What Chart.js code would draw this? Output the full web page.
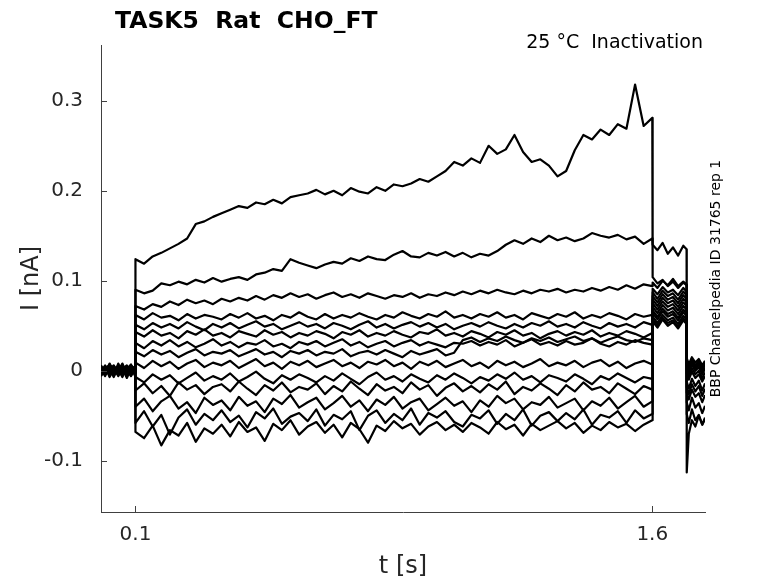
<!DOCTYPE html>
<html>
<head>
<meta charset="utf-8">
<script src="https://cdn.jsdelivr.net/npm/chart.js@4.4.0/dist/chart.umd.min.js"></script>
<style>
  html, body { margin: 0; padding: 0; background: #fff; }
  #wrap { width: 778px; height: 583px; }
</style>
</head>
<body>
<div id="wrap"><canvas id="traceChart" width="778" height="583"></canvas></div>
<script>
// time points [s]: holding, step 1, step 2, tail
var tBase  = [0, 0.012, 0.025, 0.037, 0.05, 0.062, 0.075, 0.087, 0.0995];
var tStep  = [0.100, 0.125, 0.150, 0.175, 0.200, 0.225, 0.250, 0.275, 0.300, 0.325,
              0.350, 0.375, 0.400, 0.425, 0.450, 0.475, 0.500, 0.525, 0.550, 0.575,
              0.600, 0.625, 0.650, 0.675, 0.700, 0.725, 0.750, 0.775, 0.800, 0.825,
              0.850, 0.875, 0.900, 0.925, 0.950, 0.975, 1.000, 1.025, 1.050, 1.075,
              1.100, 1.125, 1.150, 1.175, 1.200, 1.225, 1.250, 1.275, 1.300, 1.325,
              1.350, 1.375, 1.400, 1.425, 1.450, 1.475, 1.500, 1.525, 1.550, 1.575,
              1.600];
var tStep2 = [1.601, 1.615, 1.63, 1.645, 1.66, 1.675, 1.69, 1.6995];
var tTail  = [1.7, 1.706, 1.715, 1.725, 1.735, 1.745, 1.753];
var t = tBase.concat(tStep, tStep2, tTail);

// tick labels
var xTicks = [0.1, 1.6];
var yTicks = [-0.1, 0, 0.1, 0.2, 0.3];

// currents [nA], one array per sweep
var i01 = [0.002, -0.004, 0.006, -0.001, 0.003, -0.006, 0.004, 0.000, -0.002,
  0.124, 0.119, 0.127, 0.131, 0.136, 0.141, 0.147, 0.163, 0.166, 0.171,
  0.175, 0.179, 0.183, 0.181, 0.187, 0.185, 0.190, 0.186, 0.193, 0.195,
  0.197, 0.201, 0.196, 0.200, 0.195, 0.203, 0.199, 0.197, 0.204, 0.200,
  0.207, 0.205, 0.208, 0.213, 0.210, 0.216, 0.222, 0.232, 0.228, 0.236,
  0.231, 0.250, 0.241, 0.246, 0.262, 0.243, 0.232, 0.235, 0.228, 0.216,
  0.222, 0.245, 0.262, 0.257, 0.268, 0.262, 0.274, 0.269, 0.318, 0.272,
  0.281,
  0.104, 0.097, 0.101, 0.094, 0.099, 0.092, 0.098, 0.095,
  0.010, 0.004, 0.012, 0.006, 0.011, 0.003, 0.008];
var i02 = [-0.003, 0.005, 0.001, -0.006, 0.008, -0.002, 0.003, -0.005, 0.002,
  0.090, 0.086, 0.089, 0.097, 0.095, 0.099, 0.096, 0.101, 0.098, 0.103,
  0.099, 0.102, 0.104, 0.101, 0.107, 0.109, 0.113, 0.111, 0.124, 0.120,
  0.117, 0.114, 0.118, 0.121, 0.119, 0.125, 0.122, 0.127, 0.124, 0.123,
  0.129, 0.133, 0.127, 0.126, 0.131, 0.128, 0.132, 0.127, 0.131, 0.126,
  0.130, 0.128, 0.133, 0.140, 0.145, 0.141, 0.147, 0.143, 0.150, 0.145,
  0.148, 0.144, 0.147, 0.153, 0.150, 0.148, 0.151, 0.146, 0.149, 0.141,
  0.147,
  0.140, 0.134, 0.142, 0.130, 0.137, 0.128, 0.139, 0.135,
  0.012, 0.005, 0.013, 0.002, 0.009, 0.004, 0.010];
var i03 = [0.004, -0.002, 0.007, 0.001, -0.005, 0.003, -0.001, 0.006, 0.000,
  0.072, 0.068, 0.074, 0.071, 0.077, 0.073, 0.079, 0.075, 0.078, 0.074,
  0.080, 0.077, 0.081, 0.078, 0.083, 0.079, 0.084, 0.081, 0.086, 0.082,
  0.085, 0.080, 0.084, 0.087, 0.082, 0.085, 0.081, 0.086, 0.083, 0.080,
  0.084, 0.082, 0.086, 0.081, 0.085, 0.083, 0.087, 0.084, 0.088, 0.085,
  0.089, 0.086, 0.090, 0.087, 0.085, 0.089, 0.086, 0.090, 0.088, 0.091,
  0.087, 0.090, 0.088, 0.092, 0.089, 0.093, 0.090, 0.095, 0.091, 0.096,
  0.094,
  0.098, 0.092, 0.100, 0.095, 0.102, 0.094, 0.099, 0.096,
  0.006, -0.001, 0.008, 0.002, 0.007, -0.002, 0.004];
var i04 = [-0.004, 0.003, -0.001, 0.005, -0.006, 0.002, 0.006, -0.003, 0.001,
  0.062, 0.057, 0.064, 0.059, 0.061, 0.056, 0.063, 0.058, 0.062, 0.060,
  0.057, 0.063, 0.059, 0.064, 0.058, 0.061, 0.056, 0.062, 0.059, 0.065,
  0.060, 0.057, 0.063, 0.058, 0.062, 0.059, 0.064, 0.060, 0.057, 0.062,
  0.059, 0.065, 0.061, 0.058, 0.063, 0.060, 0.066, 0.059, 0.062, 0.058,
  0.063, 0.060, 0.065, 0.059, 0.062, 0.057, 0.064, 0.061, 0.058, 0.063,
  0.060, 0.065, 0.058, 0.062, 0.059, 0.064, 0.061, 0.057, 0.063, 0.060,
  0.062,
  0.091, 0.085, 0.093, 0.087, 0.090, 0.084, 0.092, 0.088,
  0.014, 0.007, 0.015, 0.009, 0.013, 0.006, 0.011];
var i05 = [0.006, -0.002, 0.003, -0.005, 0.001, 0.007, -0.003, 0.004, -0.001,
  0.051, 0.046, 0.053, 0.048, 0.052, 0.047, 0.054, 0.049, 0.045, 0.052,
  0.048, 0.053, 0.047, 0.051, 0.055, 0.049, 0.052, 0.046, 0.050, 0.054,
  0.049, 0.052, 0.047, 0.053, 0.050, 0.046, 0.051, 0.055, 0.048, 0.052,
  0.047, 0.051, 0.054, 0.049, 0.053, 0.048, 0.052, 0.046, 0.050, 0.053,
  0.049, 0.054, 0.050, 0.047, 0.052, 0.048, 0.053, 0.050, 0.055, 0.049,
  0.052, 0.048, 0.054, 0.050, 0.047, 0.053, 0.049, 0.052, 0.048, 0.054,
  0.051,
  0.087, 0.080, 0.089, 0.083, 0.086, 0.079, 0.088, 0.084,
  0.010, 0.003, 0.012, 0.005, 0.009, 0.001, 0.007];
var i06 = [-0.002, 0.004, -0.006, 0.002, 0.005, -0.003, 0.001, -0.005, 0.003,
  0.043, 0.038, 0.045, 0.039, 0.042, 0.036, 0.044, 0.040, 0.046, 0.039,
  0.042, 0.037, 0.044, 0.041, 0.038, 0.045, 0.040, 0.043, 0.037, 0.042,
  0.039, 0.044, 0.041, 0.036, 0.043, 0.040, 0.045, 0.038, 0.042, 0.039,
  0.044, 0.040, 0.037, 0.043, 0.041, 0.046, 0.039, 0.042, 0.038, 0.044,
  0.041, 0.037, 0.043, 0.040, 0.045, 0.039, 0.042, 0.036, 0.041, 0.044,
  0.039, 0.043, 0.040, 0.045, 0.038, 0.042, 0.039, 0.044, 0.041, 0.037,
  0.042,
  0.083, 0.076, 0.085, 0.079, 0.082, 0.075, 0.084, 0.080,
  0.005, -0.002, 0.007, 0.000, 0.004, -0.004, 0.002];
var i07 = [0.003, -0.004, 0.001, 0.006, -0.002, 0.004, -0.006, 0.002, 0.005,
  0.031, 0.025, 0.033, 0.028, 0.034, 0.027, 0.032, 0.026, 0.030, 0.035,
  0.028, 0.032, 0.026, 0.031, 0.029, 0.034, 0.027, 0.030, 0.025, 0.032,
  0.029, 0.033, 0.027, 0.031, 0.035, 0.028, 0.032, 0.026, 0.030, 0.033,
  0.027, 0.031, 0.034, 0.028, 0.032, 0.029, 0.026, 0.031, 0.030, 0.033,
  0.028, 0.032, 0.029, 0.034, 0.027, 0.031, 0.035, 0.029, 0.032, 0.028,
  0.033, 0.029, 0.031, 0.036, 0.030, 0.027, 0.032, 0.029, 0.034, 0.031,
  0.029,
  0.079, 0.072, 0.081, 0.075, 0.078, 0.071, 0.080, 0.076,
  0.001, -0.006, 0.003, -0.004, 0.000, -0.008, -0.002];
var i08 = [-0.005, 0.002, 0.007, -0.002, 0.003, -0.004, 0.005, 0.000, -0.003,
  0.021, 0.016, 0.023, 0.018, 0.022, 0.015, 0.020, 0.024, 0.017, 0.021,
  0.019, 0.023, 0.016, 0.020, 0.024, 0.018, 0.021, 0.015, 0.022, 0.019,
  0.023, 0.017, 0.021, 0.019, 0.024, 0.016, 0.020, 0.022, 0.018, 0.023,
  0.019, 0.015, 0.022, 0.018, 0.021, 0.024, 0.017, 0.020, 0.034, 0.037,
  0.032, 0.036, 0.033, 0.038, 0.034, 0.031, 0.036, 0.033, 0.037, 0.032,
  0.035, 0.038, 0.033, 0.036, 0.031, 0.035, 0.038, 0.034, 0.032, 0.036,
  0.034,
  0.075, 0.068, 0.077, 0.071, 0.074, 0.067, 0.076, 0.072,
  -0.003, -0.010, -0.001, -0.008, -0.004, -0.012, -0.006];
var i09 = [0.001, -0.006, 0.004, -0.001, 0.006, -0.004, 0.002, 0.007, -0.002,
  0.009, 0.003, 0.011, 0.005, 0.010, 0.002, 0.008, 0.012, 0.004, 0.009,
  0.006, 0.011, 0.003, 0.008, 0.013, 0.005, 0.009, 0.002, 0.010, 0.006,
  0.011, 0.004, 0.008, 0.012, 0.005, 0.009, 0.003, 0.010, 0.007, 0.012,
  0.005, 0.009, 0.002, 0.010, 0.006, 0.011, 0.004, 0.008, 0.012, 0.005,
  0.009, 0.003, 0.011, 0.006, 0.010, 0.004, 0.008, 0.013, 0.005, 0.009,
  0.006, 0.011, 0.004, 0.009, 0.012, 0.005, 0.010, 0.003, 0.008, 0.011,
  0.007,
  0.071, 0.064, 0.073, 0.067, 0.070, 0.063, 0.072, 0.068,
  -0.012, -0.020, -0.009, -0.017, -0.011, -0.022, -0.014];
var i10 = [-0.003, 0.005, -0.007, 0.002, -0.001, 0.008, -0.004, 0.003, -0.006,
  -0.007, -0.013, -0.004, -0.010, -0.005, -0.014, -0.008, -0.002, -0.011, -0.006,
  -0.010, -0.003, -0.012, -0.007, -0.001, -0.009, -0.014, -0.005, -0.010, -0.004,
  -0.008, -0.013, -0.006, -0.011, -0.003, -0.009, -0.015, -0.007, -0.002, -0.010,
  -0.006, -0.012, -0.004, -0.009, -0.013, -0.005, -0.010, -0.003, -0.008, -0.014,
  -0.007, -0.011, -0.004, -0.009, -0.002, -0.010, -0.006, -0.013, -0.005, -0.008,
  -0.012, -0.004, -0.009, -0.015, -0.006, -0.010, -0.003, -0.008, -0.013, -0.007,
  -0.009,
  0.067, 0.060, 0.069, 0.063, 0.066, 0.059, 0.068, 0.064,
  -0.018, -0.026, -0.015, -0.023, -0.017, -0.028, -0.020];
var i11 = [0.005, -0.002, 0.003, -0.007, 0.004, 0.000, -0.005, 0.006, -0.001,
  -0.022, -0.014, -0.025, -0.017, -0.028, -0.013, -0.021, -0.016, -0.026, -0.018,
  -0.015, -0.023, -0.012, -0.020, -0.027, -0.016, -0.022, -0.013, -0.024, -0.018,
  -0.021, -0.014, -0.026, -0.017, -0.023, -0.012, -0.020, -0.027, -0.015, -0.022,
  -0.018, -0.025, -0.013, -0.021, -0.016, -0.028, -0.019, -0.014, -0.023, -0.017,
  -0.024, -0.015, -0.021, -0.012, -0.026, -0.018, -0.022, -0.014, -0.020, -0.027,
  -0.016, -0.023, -0.013, -0.021, -0.018, -0.025, -0.014, -0.020, -0.026, -0.017,
  -0.021,
  0.064, 0.057, 0.066, 0.060, 0.063, 0.056, 0.065, 0.061,
  -0.024, -0.032, -0.021, -0.029, -0.025, -0.035, -0.027];
var i12 = [-0.001, 0.006, -0.005, 0.002, -0.003, 0.004, 0.001, -0.006, 0.003,
  -0.040, -0.031, -0.045, -0.034, -0.028, -0.042, -0.035, -0.047, -0.030, -0.038,
  -0.033, -0.044, -0.029, -0.039, -0.034, -0.046, -0.031, -0.037, -0.027, -0.041,
  -0.035, -0.030, -0.043, -0.036, -0.028, -0.040, -0.033, -0.045, -0.032, -0.038,
  -0.029, -0.042, -0.035, -0.031, -0.044, -0.037, -0.030, -0.039, -0.034, -0.046,
  -0.033, -0.040, -0.028, -0.036, -0.031, -0.043, -0.035, -0.038, -0.029, -0.041,
  -0.036, -0.031, -0.044, -0.034, -0.039, -0.030, -0.042, -0.035, -0.028, -0.040,
  -0.034,
  0.060, 0.053, 0.062, 0.056, 0.059, 0.052, 0.061, 0.057,
  -0.035, -0.044, -0.030, -0.041, -0.036, -0.047, -0.039];
var i13 = [0.004, -0.004, 0.008, -0.002, 0.002, -0.007, 0.005, -0.001, 0.002,
  -0.058, -0.045, -0.062, -0.049, -0.071, -0.052, -0.043, -0.060, -0.048, -0.055,
  -0.044, -0.057, -0.050, -0.063, -0.046, -0.053, -0.042, -0.059, -0.051, -0.047,
  -0.056, -0.043, -0.061, -0.049, -0.054, -0.045, -0.066, -0.050, -0.044, -0.058,
  -0.048, -0.055, -0.042, -0.060, -0.047, -0.052, -0.045, -0.057, -0.062, -0.049,
  -0.053, -0.044, -0.059, -0.048, -0.055, -0.043, -0.061, -0.050, -0.046, -0.056,
  -0.047, -0.054, -0.043, -0.060, -0.049, -0.052, -0.045, -0.058, -0.044, -0.053,
  -0.048,
  0.057, 0.050, 0.059, 0.053, 0.056, 0.049, 0.058, 0.054,
  -0.048, -0.058, -0.043, -0.055, -0.049, -0.060, -0.052];
var i14 = [-0.006, 0.001, -0.003, 0.005, -0.004, 0.003, -0.008, 0.002, -0.002,
  -0.068, -0.075, -0.061, -0.083, -0.066, -0.072, -0.058, -0.079, -0.064, -0.070,
  -0.060, -0.073, -0.057, -0.068, -0.063, -0.078, -0.059, -0.066, -0.055, -0.071,
  -0.062, -0.057, -0.069, -0.060, -0.074, -0.058, -0.065, -0.080, -0.061, -0.067,
  -0.056, -0.064, -0.059, -0.071, -0.062, -0.057, -0.066, -0.060, -0.068, -0.058,
  -0.063, -0.070, -0.057, -0.065, -0.060, -0.072, -0.059, -0.066, -0.061, -0.056,
  -0.064, -0.058, -0.069, -0.061, -0.066, -0.057, -0.063, -0.059, -0.067, -0.060,
  -0.055,
  0.055, 0.048, 0.057, 0.050, 0.054, 0.047, 0.056, 0.052,
  -0.113, -0.070, -0.055, -0.062, -0.050, -0.060, -0.054];

var sweeps = [i01, i02, i03, i04, i05, i06, i07, i08, i09, i10, i11, i12, i13, i14];

var axisColor = '#404040';
var textColor = '#262626';

// ticks drawn inward like the original figure
var innerTicks = {
  id: 'innerTicks',
  afterDraw: function(chart) {
    var ctx = chart.ctx, a = chart.chartArea;
    ctx.save();
    ctx.strokeStyle = axisColor;
    ctx.lineWidth = 1;
    ctx.beginPath();
    chart.scales.x.ticks.forEach(function(tk) {
      var px = Math.round(chart.scales.x.getPixelForValue(tk.value)) + 0.5;
      ctx.moveTo(px, a.bottom);
      ctx.lineTo(px, a.bottom - 6);
    });
    chart.scales.y.ticks.forEach(function(tk) {
      var py = Math.round(chart.scales.y.getPixelForValue(tk.value)) + 0.5;
      ctx.moveTo(a.left, py);
      ctx.lineTo(a.left + 6, py);
    });
    ctx.stroke();
    ctx.restore();
  }
};

var headings = {
  id: 'headings',
  afterDraw: function(chart) {
    var ctx = chart.ctx, a = chart.chartArea;
    ctx.save();
    ctx.fillStyle = '#000';
    ctx.textBaseline = 'alphabetic';
    ctx.font = 'bold 23.5px "DejaVu Sans"';
    ctx.textAlign = 'left';
    ctx.fillText('TASK5  Rat  CHO_FT', a.left + 14, 28);
    ctx.font = '19px "DejaVu Sans"';
    ctx.textAlign = 'right';
    ctx.fillText('25 °C  Inactivation', a.right - 2, 48);
    ctx.translate(a.right + 11, (a.top + a.bottom) / 2);
    ctx.rotate(-Math.PI / 2);
    ctx.font = '14px "DejaVu Sans"';
    ctx.textAlign = 'center';
    ctx.textBaseline = 'middle';
    ctx.fillText('BBP Channelpedia ID 31765 rep 1', 0, 0);
    ctx.restore();
  }
};

var ctxT = document.getElementById('traceChart').getContext('2d');
var traceChart = new Chart(ctxT, {
  type: 'line',
  data: {
    datasets: sweeps.map(function(s) {
      return {
        data: t.map(function(x, k) { return { x: x, y: s[k] }; }),
        borderColor: '#000',
        borderWidth: 2.2,
        borderJoinStyle: 'round',
        pointRadius: 0,
        tension: 0,
        fill: false
      };
    })
  },
  options: {
    responsive: false,
    animation: false,
    devicePixelRatio: 1,
    layout: { padding: { top: 45, right: 73, left: 0, bottom: 0 } },
    plugins: { legend: { display: false }, tooltip: { enabled: false } },
    scales: {
      x: {
        type: 'linear',
        min: 0,
        max: 1.753,
        afterFit: function(s) { s.height = 71; },
        afterBuildTicks: function(s) { s.ticks = xTicks.map(function(v) { return { value: v }; }); },
        grid: { drawOnChartArea: false, drawTicks: false },
        border: { display: true, color: axisColor, width: 1 },
        ticks: {
          padding: 11,
          color: textColor,
          font: { family: 'DejaVu Sans', size: 20 },
          callback: function(v) { return String(v); }
        },
        title: {
          display: true,
          text: 't [s]',
          color: textColor,
          font: { family: 'DejaVu Sans', size: 24 },
          padding: { top: 0, bottom: 2 }
        }
      },
      y: {
        type: 'linear',
        min: -0.157,
        max: 0.362,
        afterFit: function(s) { s.width = 101; },
        afterBuildTicks: function(s) { s.ticks = yTicks.map(function(v) { return { value: v }; }); },
        grid: { drawOnChartArea: false, drawTicks: false },
        border: { display: true, color: axisColor, width: 1 },
        ticks: {
          padding: 18,
          color: textColor,
          font: { family: 'DejaVu Sans', size: 20 },
          callback: function(v) { return String(v); }
        },
        title: {
          display: true,
          text: 'I [nA]',
          color: textColor,
          font: { family: 'DejaVu Sans', size: 24 },
          padding: { top: 17, bottom: 0 }
        }
      }
    }
  },
  plugins: [innerTicks, headings]
});
</script>
</body>
</html>
